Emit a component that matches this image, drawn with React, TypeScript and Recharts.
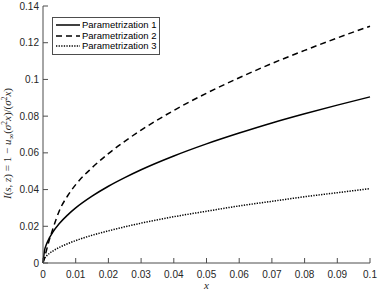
import React from 'react';
import { LineChart, Line, XAxis, YAxis, Legend } from 'recharts';

// x samples and the three curves
const xValues = [0, 0.0005, 0.001, 0.002, 0.003, 0.005, 0.0075, 0.01, 0.015, 0.02, 0.025, 0.03, 0.04, 0.05, 0.06, 0.07, 0.08, 0.09, 0.1];
const param1 = [0, 0.0071, 0.0099, 0.0138, 0.0168, 0.0215, 0.0261, 0.03, 0.0364, 0.0418, 0.0465, 0.0508, 0.0583, 0.0649, 0.0708, 0.0763, 0.0813, 0.086, 0.0905];
const param2 = [0, 0.003, 0.0065, 0.013, 0.0185, 0.0285, 0.0365, 0.0427, 0.0519, 0.0596, 0.0663, 0.0724, 0.0831, 0.0925, 0.1009, 0.1087, 0.1158, 0.1226, 0.129];
const param3 = [0, 0.0026, 0.0037, 0.0053, 0.0065, 0.0085, 0.0105, 0.0122, 0.0151, 0.0175, 0.0197, 0.0217, 0.0252, 0.0282, 0.0311, 0.0336, 0.0361, 0.0383, 0.0405];

const seriesNames = ['Parametrization 1', 'Parametrization 2', 'Parametrization 3'];
const xTicks = [0, 0.01, 0.02, 0.03, 0.04, 0.05, 0.06, 0.07, 0.08, 0.09, 0.1];
const xTickLabels = ['0', '0.01', '0.02', '0.03', '0.04', '0.05', '0.06', '0.07', '0.08', '0.09', '0.1'];
const yTicks = [0, 0.02, 0.04, 0.06, 0.08, 0.1, 0.12, 0.14];
const yTickLabels = ['0', '0.02', '0.04', '0.06', '0.08', '0.1', '0.12', '0.14'];

const data = xValues.map((x, i) => ({ x, p1: param1[i], p2: param2[i], p3: param3[i] }));

const AXIS = '#4d4d4d';
const TEXT = '#262626';
const FONT = '"Liberation Sans", Arial, sans-serif';
const TICK_LEN = 5;
const X_MARGIN = 8;
const Y_MARGIN = 4;

const dashes = [undefined, '6 4', '1.3 1.3'];

const BottomTick = (props: any) => {
  const { x, y, payload, index } = props;
  const axisY = y - X_MARGIN;
  return (
    <g>
      <line x1={x} x2={x} y1={axisY} y2={axisY - TICK_LEN} stroke={AXIS} />
      <text x={x} y={y} dy="0.71em" textAnchor="middle" fontSize={10} fill={TEXT} fontFamily={FONT}>
        {xTickLabels[index] ?? String(payload.value)}
      </text>
    </g>
  );
};

const LeftTick = (props: any) => {
  const { x, y, payload, index } = props;
  const axisX = x + Y_MARGIN;
  return (
    <g>
      <line x1={axisX} x2={axisX + TICK_LEN} y1={y} y2={y} stroke={AXIS} />
      <text x={x} y={y} dy="0.355em" textAnchor="end" fontSize={10} fill={TEXT} fontFamily={FONT}>
        {yTickLabels[index] ?? String(payload.value)}
      </text>
    </g>
  );
};

const TopTick = (props: any) => (
  <line x1={props.x} x2={props.x} y1={props.y} y2={props.y + TICK_LEN} stroke={AXIS} />
);

const RightTick = (props: any) => (
  <line x1={props.x} x2={props.x - TICK_LEN} y1={props.y} y2={props.y} stroke={AXIS} />
);

const YLabel = (props: any) => {
  const vb = props.viewBox || {};
  const cx = (vb.x ?? 0) + 11;
  const cy = (vb.y ?? 0) + (vb.height ?? 0) / 2 + 9;
  const it = { fontStyle: 'italic' as const };
  return (
    <text
      x={cx}
      y={cy}
      transform={`rotate(-90, ${cx}, ${cy})`}
      textAnchor="middle"
      fontSize={11}
      fill={TEXT}
      fontFamily='"Liberation Serif", "DejaVu Serif", serif'
    >
      <tspan {...it}>I</tspan>
      <tspan>(</tspan>
      <tspan {...it}>s</tspan>
      <tspan>, </tspan>
      <tspan {...it}>z</tspan>
      <tspan>{') = 1 \u2212 '}</tspan>
      <tspan {...it}>u</tspan>
      <tspan dy={2.5} fontSize={8}>∞</tspan>
      <tspan dy={-2.5}>(</tspan>
      <tspan {...it}>σ</tspan>
      <tspan dy={-4} fontSize={7.5}>2</tspan>
      <tspan dy={4} {...it}>x</tspan>
      <tspan>)/(</tspan>
      <tspan {...it}>σ</tspan>
      <tspan dy={-4} fontSize={7.5}>2</tspan>
      <tspan dy={4} {...it}>x</tspan>
      <tspan>)</tspan>
    </text>
  );
};

const XLabel = (props: any) => {
  const vb = props.viewBox || {};
  const cx = (vb.x ?? 0) + (vb.width ?? 0) / 2;
  return (
    <text x={cx} y={(vb.y ?? 0) + 26} textAnchor="middle" fontSize={11} fontStyle="italic" fill={TEXT}
      fontFamily='"Liberation Serif", "DejaVu Serif", serif'>
      x
    </text>
  );
};

const LegendBox = () => (
  <div
    style={{
      border: `1px solid ${AXIS}`,
      background: '#fff',
      padding: '2px 3px 2px 2px',
      fontFamily: FONT,
      fontSize: 9.5,
      color: '#000',
      lineHeight: '10.5px',
    }}
  >
    {seriesNames.map((name, i) => (
      <div key={name} style={{ display: 'flex', alignItems: 'center', height: 10.5 }}>
        <svg width={26} height={6} style={{ marginRight: 1 }}>
          <line x1={1} x2={25} y1={3} y2={3} stroke="#000" strokeWidth={1.5} strokeDasharray={dashes[i]} />
        </svg>
        <span>{name}</span>
      </div>
    ))}
  </div>
);

export default function App() {
  return (
    <>
      <style>{'body{margin:0;background:#fff}'}</style>
      <LineChart width={378} height={294} data={data} margin={{ top: 6, right: 8, left: 0, bottom: 0 }}>
        <XAxis
          dataKey="x"
          type="number"
          domain={[0, 0.1]}
          ticks={xTicks}
          interval={0}
          height={31}
          tickSize={0}
          tickMargin={X_MARGIN}
          tick={<BottomTick />}
          axisLine={{ stroke: AXIS }}
          label={<XLabel />}
        />
        <XAxis
          xAxisId="top"
          orientation="top"
          dataKey="x"
          type="number"
          domain={[0, 0.1]}
          ticks={xTicks}
          interval={0}
          height={0}
          tickSize={0}
          tickMargin={0}
          tick={<TopTick />}
          axisLine={{ stroke: AXIS }}
        />
        <YAxis
          type="number"
          domain={[0, 0.14]}
          ticks={yTicks}
          interval={0}
          width={43}
          tickSize={0}
          tickMargin={Y_MARGIN}
          tick={<LeftTick />}
          axisLine={{ stroke: AXIS }}
          label={<YLabel />}
        />
        <YAxis
          yAxisId="right"
          orientation="right"
          type="number"
          domain={[0, 0.14]}
          ticks={yTicks}
          interval={0}
          width={0}
          tickSize={0}
          tickMargin={0}
          tick={<RightTick />}
          axisLine={{ stroke: AXIS }}
        />
        <Legend
          layout="vertical"
          align="center"
          verticalAlign="middle"
          content={<LegendBox />}
          wrapperStyle={{ left: 52, top: 17, width: 'auto', height: 'auto' }}
        />
        <Line type="monotone" dataKey="p1" name={seriesNames[0]} stroke="#000" strokeWidth={1.5} dot={false} isAnimationActive={false} />
        <Line type="monotone" dataKey="p2" name={seriesNames[1]} stroke="#000" strokeWidth={1.5} strokeDasharray="6 4" dot={false} isAnimationActive={false} />
        <Line type="monotone" dataKey="p3" name={seriesNames[2]} stroke="#000" strokeWidth={1.5} strokeDasharray="1.3 1.3" dot={false} isAnimationActive={false} />
      </LineChart>
    </>
  );
}
